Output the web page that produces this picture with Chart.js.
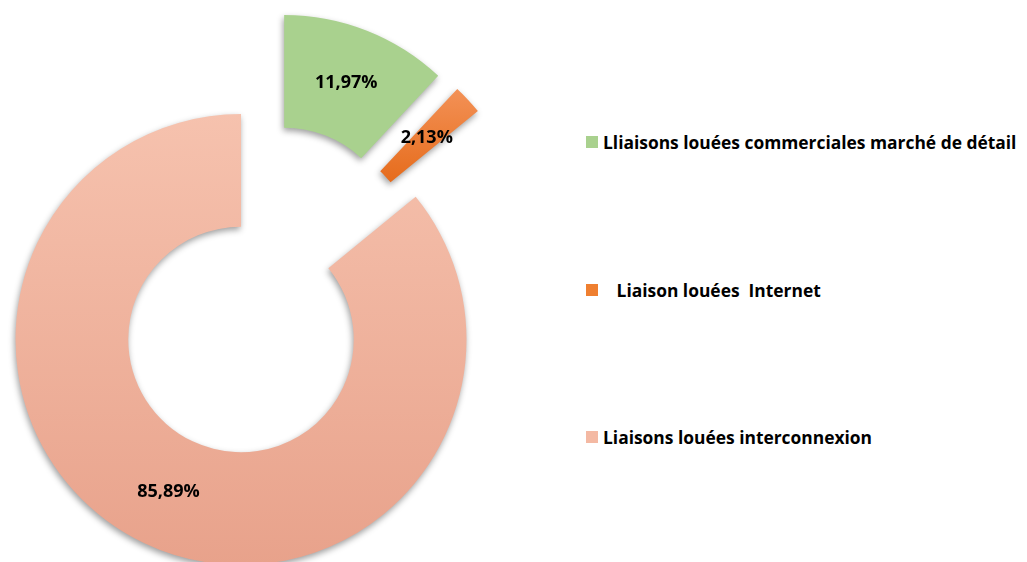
<!DOCTYPE html>
<html lang="fr">
<head>
<meta charset="utf-8">
<title>Liaisons louées</title>
<script src="https://cdn.jsdelivr.net/npm/chart.js@4.4.1/dist/chart.umd.min.js"></script>
<style>
	html, body { margin: 0; padding: 0; background: #fff; width: 1027px; height: 562px; overflow: hidden; }
	.chart-wrap { position: absolute; left: -40px; top: 0; width: 600px; height: 640px; }
	.legend { position: absolute; left: 586px; top: 0; font-family: "Open Sans", Lato, sans-serif; font-weight: 700; font-size: 17.4px; color: #000; }
	.legend-item { position: absolute; left: 0; height: 24px; display: flex; align-items: center; white-space: pre; }
	.legend-box { width: 12px; height: 12px; margin-right: 5px; flex: none; }
</style>
</head>
<body>
<div class="chart-wrap"><canvas id="donut"></canvas></div>
<div class="legend" id="legend"></div>
<script>
var categories = ['Lliaisons louées commerciales marché de détail', '   Liaison louées  Internet', 'Liaisons louées interconnexion'];
var shares = [11.97, 2.13, 85.89];
var shareLabels = ['11,97%', '2,13%', '85,89%'];
var legendColors = ['#a9d18e', '#ef7f30', '#f4b9a3'];

var APP = APP || {};
(function () {
	'use strict';

	// slice pulled out of the ring: distance in px, direction turned from the slice middle (deg)
	function shiftOf(chart, arc, i) {
		var slices = chart.options.plugins.explode.slices;
		var e = slices[i] || { dist: 0, turn: 0 };
		var mid = (arc.startAngle + arc.endAngle) / 2 + e.turn * Math.PI / 180;
		return { x: Math.cos(mid) * e.dist, y: Math.sin(mid) * e.dist };
	}

	APP.donut = {
		init: function () {
			this.chartjs();
			this.legend();
		},

		fill: function (context) {
			var chart = context.chart,
				area = chart.chartArea,
				ctx = chart.ctx,
				g;
			if (!area) {
				return legendColors[context.dataIndex];
			}
			var cy = (area.top + area.bottom) / 2;
			if (context.dataIndex === 0) {
				return '#a9d18e';
			}
			if (context.dataIndex === 1) {
				g = ctx.createLinearGradient(0, cy - 250, 0, cy - 158);
				g.addColorStop(0, '#f39156');
				g.addColorStop(1, '#e66c1c');
				return g;
			}
			g = ctx.createLinearGradient(0, cy - 226, 0, cy + 226);
			g.addColorStop(0, '#f6c2ae');
			g.addColorStop(1, '#e8a28b');
			return g;
		},

		chartjs: function () {
			var shadow = {
				id: 'shadow',
				beforeDatasetsDraw: function (chart) {
					var ctx = chart.ctx;
					ctx.save();
					ctx.shadowColor = 'rgba(0, 0, 0, 0.38)';
					ctx.shadowBlur = 6;
					ctx.shadowOffsetX = -1;
					ctx.shadowOffsetY = 3;
				},
				afterDatasetsDraw: function (chart) {
					chart.ctx.restore();
				}
			};

			var explode = {
				id: 'explode',
				beforeDatasetsDraw: function (chart) {
					chart.getDatasetMeta(0).data.forEach(function (arc, i) {
						var s = shiftOf(chart, arc, i);
						arc._home = { x: arc.x, y: arc.y };
						arc.x += s.x;
						arc.y += s.y;
					});
				},
				afterDatasetsDraw: function (chart) {
					chart.getDatasetMeta(0).data.forEach(function (arc) {
						if (arc._home) {
							arc.x = arc._home.x;
							arc.y = arc._home.y;
						}
					});
				}
			};

			var valueLabels = {
				id: 'valueLabels',
				afterDatasetsDraw: function (chart) {
					var ctx = chart.ctx;
					var meta = chart.getDatasetMeta(0);
					ctx.save();
					ctx.font = 'bold 18px "Open Sans", Lato, sans-serif';
					ctx.fillStyle = '#000';
					ctx.textAlign = 'center';
					ctx.textBaseline = 'middle';
					meta.data.forEach(function (arc, i) {
						var s = shiftOf(chart, arc, i);
						var mid = (arc.startAngle + arc.endAngle) / 2;
						var r = (arc.innerRadius + arc.outerRadius) / 2;
						ctx.fillText(shareLabels[i], arc.x + s.x + Math.cos(mid) * r, arc.y + s.y + Math.sin(mid) * r);
					});
					ctx.restore();
				}
			};

			new Chart(document.getElementById('donut'), {
				type: 'doughnut',
				data: {
					labels: categories,
					datasets: [{
						data: shares,
						backgroundColor: this.fill,
						borderWidth: 0
					}]
				},
				options: {
					responsive: true,
					maintainAspectRatio: false,
					animation: false,
					events: [],
					radius: 225.5,
					cutout: '50%',
					layout: { padding: { left: 0, right: 38, top: 39, bottom: 0 } },
					plugins: {
						legend: { display: false },
						tooltip: { enabled: false },
						explode: {
							slices: [{ dist: 108, turn: 2 }, { dist: 106, turn: -11 }, { dist: 0, turn: 0 }]
						}
					}
				},
				plugins: [shadow, explode, valueLabels]
			});
		},

		legend: function () {
			var $legend = document.getElementById('legend');
			categories.forEach(function (name, i) {
				var item = document.createElement('div');
				item.className = 'legend-item';
				item.style.top = (142 + i * 147.5 - 12) + 'px';
				var box = document.createElement('span');
				box.className = 'legend-box';
				box.style.background = legendColors[i];
				var text = document.createElement('span');
				text.textContent = name;
				item.appendChild(box);
				item.appendChild(text);
				$legend.appendChild(item);
			});
		}
	};

	APP.donut.init();
})();
</script>
</body>
</html>
